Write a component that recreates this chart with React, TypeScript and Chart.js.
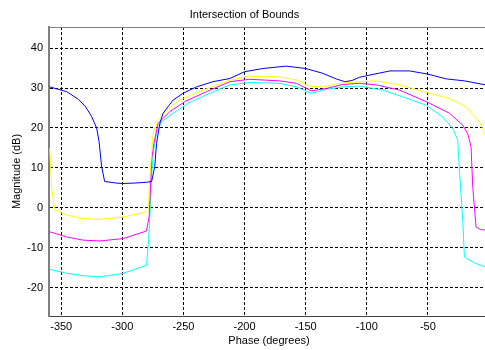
import React, { useEffect, useRef } from "react";
import { Chart, registerables } from "chart.js";

Chart.register(...registerables);

const title = "Intersection of Bounds";
const xTitle = "Phase (degrees)";
const yTitle = "Magnitude (dB)";
const xTicks = [-350, -300, -250, -200, -150, -100, -50];
const yTicks = [-20, -10, 0, 10, 20, 30, 40];

const blueX = [-359.5, -345.5, -336, -330, -325, -321, -319, -317, -314.5, -305, -300, -290, -280, -276, -273.5, -272, -269.3, -266.6, -262, -258.4, -250.3, -239.3, -225.8, -212, -200, -185, -166, -150, -136, -125, -118, -112, -106, -100, -81, -65, -50, -35, -20, -3];
const blueY = [30.3, 29.1, 27.2, 25.3, 22.8, 20, 16.5, 10.5, 6.6, 6.2, 6.1, 6.2, 6.4, 6.6, 10.3, 16.1, 21.2, 23.7, 25.6, 27, 28.7, 30.3, 31.6, 32.4, 34.1, 34.9, 35.5, 34.9, 33.7, 32.3, 31.6, 31.9, 32.7, 33.1, 34.3, 34.3, 33.5, 32.3, 31.8, 30.8];

const yellowX = [-359.5, -358.8, -357.5, -355.1, -345.5, -332, -318.3, -299.3, -280.2, -278.9, -277.5, -276.1, -274.8, -270.7, -261.1, -250.3, -233.9, -212, -195.8, -171.3, -157.6, -146.8, -135.9, -122.3, -105.9, -92.3, -73.2, -51.4, -32.4, -18.7, -7.9, -3];
const yellowY = [14.9, 11.1, 4, -0.6, -1.8, -2.7, -2.9, -2.3, -1, -0.6, 7.8, 13.6, 18.6, 22, 25.3, 27.4, 29.5, 32, 33, 32.8, 32, 30.5, 30.3, 31.2, 31.6, 31.8, 30.8, 28.9, 27.4, 25.3, 21.6, 18.2];

const magentaX = [-359.5, -345.5, -332, -318.3, -299.3, -280.2, -278, -276.9, -276.1, -274.2, -270.7, -261.1, -248.9, -231.2, -212, -195.8, -171.3, -157.6, -145.5, -133.1, -119.6, -105.9, -92.3, -73.2, -51.4, -32.4, -21.5, -17.4, -14.7, -13.3, -10.6, -7, -3];
const magentaY = [-6, -7.3, -8.1, -8.3, -7.7, -5.8, -2, 5.3, 12, 16.1, 21.2, 24.1, 26.6, 29.1, 31.6, 32.2, 31.8, 31.2, 29.3, 29.9, 30.9, 31.2, 30.8, 29.5, 26.6, 23.7, 20.7, 18.6, 15.3, 5.3, -4.8, -5.4, -5.6];

const cyanX = [-359.5, -345.5, -332, -318.3, -299.3, -280.2, -278.5, -277.5, -276.1, -274.8, -272, -267.9, -258.4, -246.2, -228.5, -212, -195.8, -171.3, -157.6, -145.5, -133.1, -119.6, -105.9, -100.4, -86.9, -70.5, -51.4, -37.9, -29.7, -25.6, -24.2, -21.5, -20.1, -12, -3];
const cyanY = [-15.4, -16.4, -17, -17.3, -16.4, -14.4, -8, -2.3, 7.8, 13.6, 18.6, 21.6, 23.7, 26.2, 28.7, 30.8, 31.4, 31.2, 30.3, 28.7, 29.7, 30.3, 30.5, 30.2, 29.5, 27.8, 25.7, 22.8, 19.9, 17, 9.4, -3.1, -12.3, -13.8, -14.8];

const zip = (xs: number[], ys: number[]) => xs.map((x, i) => ({ x, y: ys[i] }));

const FONT = "'Liberation Sans', Arial, sans-serif";

const framePlugin = {
  id: "frame",
  afterDraw(chart: any) {
    const { ctx, chartArea } = chart;
    ctx.save();
    ctx.strokeStyle = "#808080";
    ctx.lineWidth = 1;
    ctx.beginPath();
    ctx.moveTo(chartArea.left, Math.round(chartArea.top) + 0.5);
    ctx.lineTo(chartArea.right, Math.round(chartArea.top) + 0.5);
    ctx.stroke();
    ctx.restore();
  },
};

export default function App() {
  const ref = useRef<HTMLCanvasElement>(null);
  useEffect(() => {
    if (!ref.current) return;
    const mk = (data: any, color: string) => ({
      data,
      borderColor: color,
      backgroundColor: color,
      borderWidth: 1,
      pointRadius: 0,
      tension: 0,
      fill: false,
    });
    const chart = new Chart(ref.current, {
      type: "line",
      data: {
        datasets: [
          mk(zip(blueX, blueY), "#0000ff"),
          mk(zip(yellowX, yellowY), "#ffff00"),
          mk(zip(magentaX, magentaY), "#ff00ff"),
          mk(zip(cyanX, cyanY), "#00ffff"),
        ],
      },
      options: {
        animation: false,
        responsive: false,
        devicePixelRatio: 1,
        layout: { padding: 0 },
        plugins: {
          legend: { display: false },
          tooltip: { enabled: false },
          title: {
            display: true,
            text: title,
            color: "#000",
            font: { family: FONT, size: 11, weight: "normal" },
            padding: { top: 8, bottom: 5.8 },
          },
        },
        scales: {
          x: {
            type: "linear",
            min: -360,
            max: 0,
            afterFit: (s: any) => {
              s.height = 34;
            },
            afterBuildTicks: (s: any) => {
              s.ticks = xTicks.map((v) => ({ value: v }));
            },
            ticks: {
              color: "#000",
              font: { family: FONT, size: 11 },
              padding: 4,
              maxRotation: 0,
            },
            grid: { color: "#000", lineWidth: 1, drawTicks: false },
            border: { display: true, color: "#404040", width: 1, dash: [3, 2] },
            title: {
              display: true,
              text: xTitle,
              color: "#000",
              font: { family: FONT, size: 11 },
              padding: { top: 0, bottom: 2 },
            },
          },
          y: {
            type: "linear",
            min: -27.1,
            max: 45.3,
            afterFit: (s: any) => {
              s.width = 49;
            },
            afterBuildTicks: (s: any) => {
              s.ticks = yTicks.map((v) => ({ value: v }));
            },
            ticks: {
              color: "#000",
              font: { family: FONT, size: 11 },
              padding: 6,
            },
            grid: { color: "#000", lineWidth: 1, drawTicks: false },
            border: { display: true, color: "#808080", width: 2, dash: [3, 2] },
            title: {
              display: true,
              text: yTitle,
              color: "#000",
              font: { family: FONT, size: 11 },
              padding: { top: 10, bottom: 0 },
            },
          },
        },
      },
      plugins: [framePlugin],
    } as any);
    return () => chart.destroy();
  }, []);
  return (
    <div
      style={{
        position: "absolute",
        left: 0,
        top: 0,
        width: 485,
        height: 350,
        overflow: "hidden",
        background: "#fff",
      }}
    >
      <canvas ref={ref} width={489} height={350} style={{ display: "block" }} />
    </div>
  );
}
